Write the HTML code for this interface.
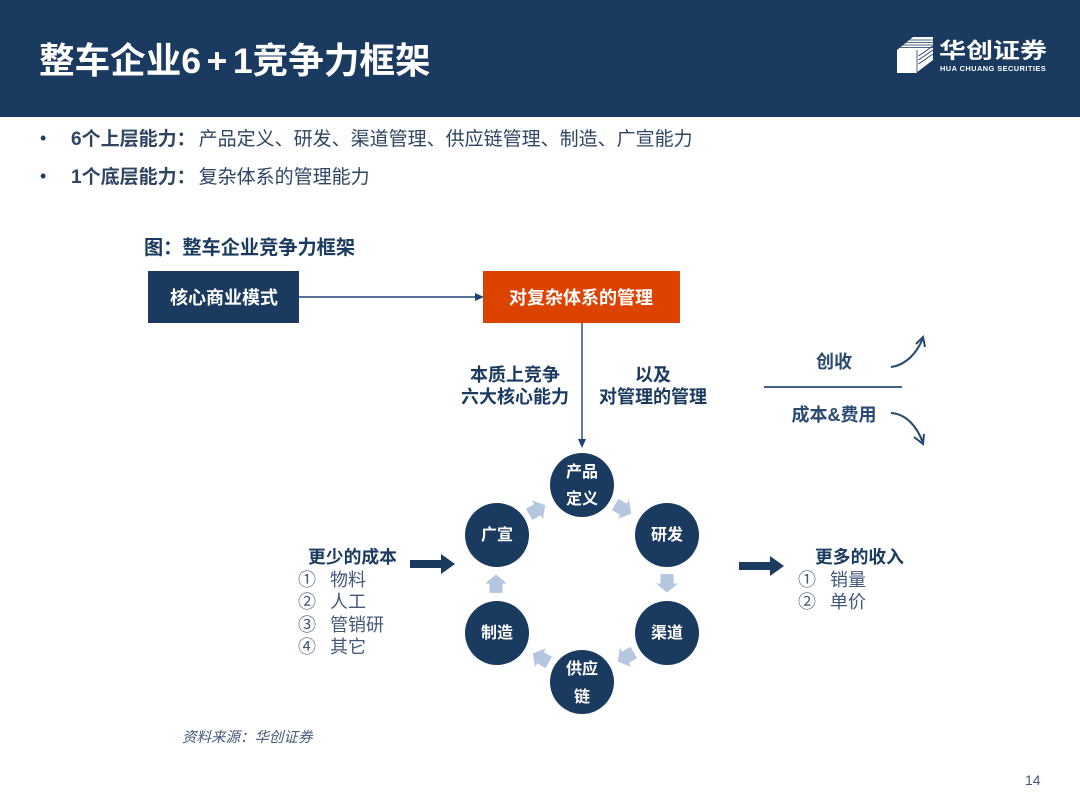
<!DOCTYPE html>
<html lang="zh">
<head>
<meta charset="utf-8">
<style>
html,body{margin:0;padding:0;background:#fff;}
#p{position:relative;width:1080px;height:810px;overflow:hidden;background:#fff;font-family:"Liberation Sans","Noto Sans CJK SC",sans-serif;color:#1a3a5f;}
#p div{position:absolute;white-space:nowrap;}
.c{transform:translate(-50%,-50%);text-align:center;}
.b{font-weight:700;}
.n{width:64px;height:64px;border-radius:50%;background:#1a3a5f;transform:translate(-50%,-50%);}
.w{color:#fff;font-weight:700;font-size:16px;line-height:20px;transform:translate(-50%,-50%);text-align:center;}
svg{position:absolute;left:0;top:0;}
</style>
</head>
<body>
<div id="p">
<div style="left:0;top:0;width:1080px;height:117px;background:#1a3a5f"></div>
<div class="b" style="left:39px;top:37px;font-size:35.6px;line-height:48px;color:#fff">整车企业6<span style="margin:0 5.5px">+</span>1竞争力框架</div>
<div class="b" style="left:939px;top:33px;font-size:27px;line-height:36px;color:#fff;transform:scaleY(.8)">华创证券</div>
<div class="b" style="left:940px;top:64px;font-size:7.4px;line-height:10px;color:#fff;letter-spacing:.45px">HUA CHUANG SECURITIES</div>

<div style="left:40px;top:127px;font-size:18px;line-height:22px;color:#1a3a5f">•</div>
<div style="left:71px;top:128px;font-size:19px;line-height:24px;color:#2f4562"><b style="margin-right:3px">6个上层能力：</b>产品定义、研发、渠道管理、供应链管理、制造、广宣能力</div>
<div style="left:40px;top:165px;font-size:18px;line-height:22px;color:#1a3a5f">•</div>
<div style="left:71px;top:166px;font-size:19px;line-height:24px;color:#2f4562"><b style="margin-right:3px">1个底层能力：</b>复杂体系的管理能力</div>

<div class="b" style="left:144px;top:237px;font-size:19.2px;line-height:24px;color:#1a3a5f">图：整车企业竞争力框架</div>

<div style="left:148px;top:271px;width:151px;height:52px;background:#1a3a5f"></div>
<div class="b c" style="left:224px;top:298px;font-size:18px;line-height:24px;color:#fff">核心商业模式</div>
<div style="left:483px;top:271px;width:197px;height:52px;background:#dc4200"></div>
<div class="b c" style="left:581px;top:298px;font-size:18px;line-height:24px;color:#fff">对复杂体系的管理</div>

<div class="b c" style="left:515px;top:386px;font-size:18px;line-height:22px;color:#1a3a5f">本质上竞争<br>六大核心能力</div>
<div class="b c" style="left:653px;top:386px;font-size:18px;line-height:22px;color:#1a3a5f">以及<br>对管理的管理</div>

<div class="b c" style="left:834px;top:362px;font-size:18px;line-height:24px;color:#2a4a70">创收</div>
<div class="b c" style="left:834px;top:415px;font-size:18px;line-height:24px;color:#2a4a70">成本&amp;费用</div>

<svg width="1080" height="810" viewBox="0 0 1080 810">
<polygon fill="#fff" points="897,50 913,37 933,37 933,60 916,73 897,73"/>
<g stroke="#1a3a5f" stroke-width=".8" fill="none">
<path d="M900,47.5 H933 M903,45 H933 M906,42.5 H933 M909,40 H933"/>
<path d="M917,50 V72"/>
<path d="M918.5,56 L933,46 M918.5,60 L933,50 M918.5,64 L933,54"/>
</g>
<g stroke="#1f4470" stroke-width="1.4" fill="#1f4470">
<line x1="299" y1="297" x2="476" y2="297"/>
<polygon points="484,297 475,293 475,301" stroke="none"/>
<line x1="582" y1="323" x2="582" y2="440"/>
<polygon points="582,448 578,439 586,439" stroke="none"/>
</g>
<line x1="764" y1="387" x2="902" y2="387" stroke="#2a4a70" stroke-width="1.8"/>
<g fill="none" stroke="#26486f" stroke-width="2">
<path d="M891,367 C906,365 917,353 923,338"/>
<path d="M916,344 L923,337 L925,347"/>
<path d="M891,413 C906,414 917,426 923,443"/>
<path d="M914,437 L923,444 L924,434"/>
</g>
<g fill="#1a3a5f">
<polygon points="410,560 441,560 441,554 455,564 441,574 441,568 410,568"/>
<polygon points="739,562 770,562 770,556 784,566 770,576 770,570 739,570"/>
</g>
<g fill="#b4c6e0">
<polygon points="0,-9.5 11,-.5 6.5,-.5 6.5,9 -6.5,9 -6.5,-.5 -11,-.5" transform="translate(496,584)"/>
<polygon points="0,-9.5 11,-.5 6.5,-.5 6.5,9 -6.5,9 -6.5,-.5 -11,-.5" transform="translate(537,510) rotate(60)"/>
<polygon points="0,-9.5 11,-.5 6.5,-.5 6.5,9 -6.5,9 -6.5,-.5 -11,-.5" transform="translate(623,509) rotate(120)"/>
<polygon points="0,-9.5 11,-.5 6.5,-.5 6.5,9 -6.5,9 -6.5,-.5 -11,-.5" transform="translate(667,583) rotate(180)"/>
<polygon points="0,-9.5 11,-.5 6.5,-.5 6.5,9 -6.5,9 -6.5,-.5 -11,-.5" transform="translate(626,657) rotate(240)"/>
<polygon points="0,-9.5 11,-.5 6.5,-.5 6.5,9 -6.5,9 -6.5,-.5 -11,-.5" transform="translate(541,658) rotate(300)"/>
</g>
</svg>

<div class="n" style="left:582px;top:485px"></div>
<div class="n" style="left:667px;top:535px"></div>
<div class="n" style="left:667px;top:633px"></div>
<div class="n" style="left:582px;top:682px"></div>
<div class="n" style="left:497px;top:633px"></div>
<div class="n" style="left:497px;top:535px"></div>
<div class="w" style="left:582px;top:486px;line-height:27px">产品<br>定义</div>
<div class="w" style="left:667px;top:536px">研发</div>
<div class="w" style="left:667px;top:634px">渠道</div>
<div class="w" style="left:582px;top:684px;line-height:28px">供应<br>链</div>
<div class="w" style="left:497px;top:634px">制造</div>
<div class="w" style="left:497px;top:536px">广宣</div>

<div class="b" style="left:308px;top:545px;font-size:17.8px;line-height:24px;color:#1a3a5f">更少的成本</div>
<div style="left:298px;top:569px;font-size:18px;line-height:22px;color:#44587a">①</div><div style="left:330px;top:569px;font-size:18px;line-height:22px;color:#44587a">物料</div>
<div style="left:298px;top:591px;font-size:18px;line-height:22px;color:#44587a">②</div><div style="left:330px;top:591px;font-size:18px;line-height:22px;color:#44587a">人工</div>
<div style="left:298px;top:614px;font-size:18px;line-height:22px;color:#44587a">③</div><div style="left:330px;top:614px;font-size:18px;line-height:22px;color:#44587a">管销研</div>
<div style="left:298px;top:636px;font-size:18px;line-height:22px;color:#44587a">④</div><div style="left:330px;top:636px;font-size:18px;line-height:22px;color:#44587a">其它</div>

<div class="b" style="left:815px;top:545px;font-size:17.8px;line-height:24px;color:#1a3a5f">更多的收入</div>
<div style="left:798px;top:569px;font-size:18px;line-height:22px;color:#44587a">①</div><div style="left:830px;top:569px;font-size:18px;line-height:22px;color:#44587a">销量</div>
<div style="left:798px;top:591px;font-size:18px;line-height:22px;color:#44587a">②</div><div style="left:830px;top:591px;font-size:18px;line-height:22px;color:#44587a">单价</div>

<div style="left:182px;top:728px;font-size:14.5px;line-height:20px;font-style:italic;color:#44587a">资料来源：华创证券</div>
<div style="left:1025px;top:771px;font-size:14px;line-height:18px;color:#44587a">14</div>
</div>
</body>
</html>
